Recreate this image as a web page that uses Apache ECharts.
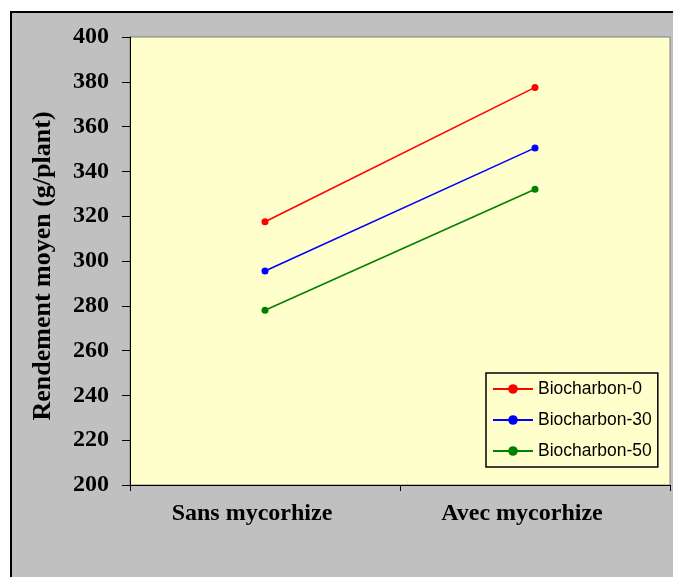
<!DOCTYPE html>
<html>
<head>
<meta charset="utf-8">
<script src="https://cdn.jsdelivr.net/npm/echarts@6/dist/echarts.min.js"></script>
<style>
  html, body { margin: 0; padding: 0; background: #ffffff; }
  #chart { width: 673px; height: 577px; }
</style>
</head>
<body>
<div id="chart"></div>
<script>
// Treatments on the category axis
const categories = ['Sans mycorhize', 'Avec mycorhize'];

// Mean yield (g/plant) per biochar dose
const biochar0 = [317.5, 377.5];
const biochar30 = [295.5, 350.5];
const biochar50 = [278, 332];

const seriesNames = ['Biocharbon-0', 'Biocharbon-30', 'Biocharbon-50'];
const seriesColors = ['#FF0000', '#0000FF', '#008000'];
const seriesData = [biochar0, biochar30, biochar50];

const serif = '"Liberation Serif", "Times New Roman", serif';
const sans = '"Liberation Sans", Arial, sans-serif';

const chart = echarts.init(document.getElementById('chart'));

chart.setOption({
  animation: false,
  backgroundColor: '#ffffff',
  graphic: [{
    type: 'rect',
    z: -10,
    shape: { x: 11, y: 12, width: 680, height: 590 },
    style: { fill: '#C0C0C0', stroke: '#000000', lineWidth: 2 }
  }],
  grid: {
    left: 130, top: 37, width: 540, height: 448,
    show: true,
    backgroundColor: '#FFFFCC',
    borderColor: '#808080',
    borderWidth: 1
  },
  legend: {
    orient: 'vertical',
    left: 486, top: 373,
    backgroundColor: '#FFFFCC',
    borderColor: '#000000',
    borderWidth: 1.5,
    borderRadius: 0,
    padding: [7, 6, 7, 6],
    itemGap: 13,
    itemWidth: 40,
    itemHeight: 12,
    textStyle: { fontFamily: sans, fontSize: 17.5, color: '#000000' },
    data: seriesNames
  },
  xAxis: {
    type: 'category',
    data: categories,
    boundaryGap: true,
    axisLine: { lineStyle: { color: '#000000', width: 1 } },
    axisTick: { show: true, length: 6, lineStyle: { color: '#000000' } },
    axisLabel: {
      fontFamily: serif, fontWeight: 'bold', fontSize: 24, color: '#000000',
      margin: 17,
      padding: [0, 26, 0, 0]
    },
    splitLine: { show: false }
  },
  yAxis: {
    type: 'value',
    min: 200, max: 400, interval: 20,
    name: 'Rendement moyen (g/plant)',
    nameLocation: 'middle',
    nameGap: 74,
    nameTextStyle: {
      fontFamily: serif, fontWeight: 'bold', fontSize: 26, color: '#000000',
      padding: [0, 10, 0, 0]
    },
    axisLine: { show: true, lineStyle: { color: '#000000', width: 1 } },
    axisTick: { show: true, length: 8, lineStyle: { color: '#000000' } },
    axisLabel: {
      fontFamily: serif, fontWeight: 'bold', fontSize: 24, color: '#000000',
      margin: 21
    },
    splitLine: { show: false }
  },
  series: seriesNames.map((name, i) => ({
    name: name,
    type: 'line',
    data: seriesData[i],
    symbol: 'circle',
    symbolSize: 7,
    lineStyle: { color: seriesColors[i], width: 1.6 },
    itemStyle: { color: seriesColors[i] }
  }))
});
</script>
</body>
</html>
